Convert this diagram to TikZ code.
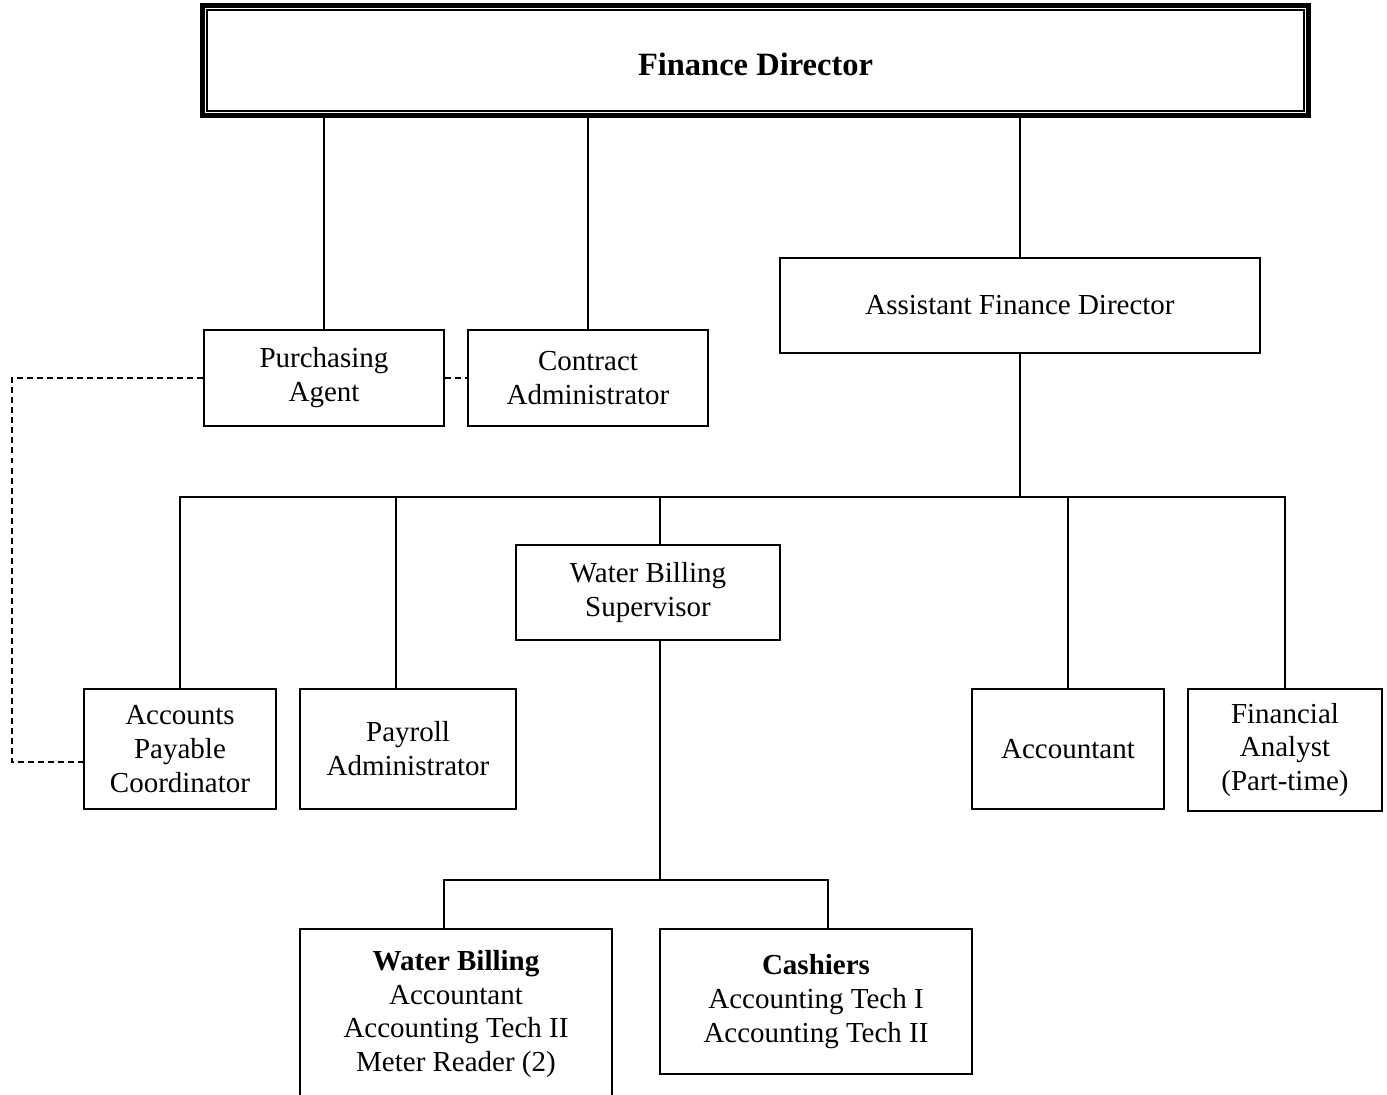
\documentclass[tikz,border=0pt]{standalone}
\usepackage{fontspec}
\setmainfont{Liberation Serif}
\usetikzlibrary{positioning,calc}

\begin{document}
\begin{tikzpicture}[x=0.02cm,y=-0.02cm,
  box/.style={draw,line width=1.3pt,align=center,inner sep=2pt,
              font=\fontsize{16.5}{19.3}\selectfont},
  link/.style={line width=1.3pt},
  dashlink/.style={line width=1.1pt,dash pattern=on 3.4pt off 2.3pt}]
  \useasboundingbox (0,0) rectangle (1387,1095);
  \clip (0,0) rectangle (1387,1095);
  % director
  \node[box,line width=2.8pt,minimum width=22.12cm,minimum height=2.2cm,text height=16.8pt,
        font=\fontsize{18.5}{22}\selectfont\bfseries] (fd) at (755.5,60.5) {Finance Director};
  \draw[line width=0.8pt] ([shift={(0.14cm,0.14cm)}]fd.south west) rectangle ([shift={(-0.14cm,-0.14cm)}]fd.north east);
  % second row
  \node[box,minimum width=4.8cm,minimum height=1.92cm] (purch) at (324,378) {Purchasing\\Agent};
  \node[box,minimum width=4.8cm,minimum height=1.92cm] (contract) at (588,378) {Contract\\Administrator};
  \node[box,minimum width=9.6cm,minimum height=1.9cm] (afd) at (1020,305.5) {Assistant Finance Director};
  % staff
  \node[box,minimum width=5.28cm,minimum height=1.9cm] (wbs) at (648,592.5) {Water Billing\\Supervisor};
  \node[box,minimum width=3.84cm,minimum height=2.4cm] (apc) at (180,749) {Accounts\\Payable\\Coordinator};
  \node[box,minimum width=4.32cm,minimum height=2.4cm] (payroll) at (408,749) {Payroll\\Administrator};
  \node[box,minimum width=3.84cm,minimum height=2.4cm] (acct) at (1068,749) {Accountant};
  \node[box,minimum width=3.88cm,minimum height=2.44cm] (analyst) at (1285,750) {Financial\\Analyst\\(Part-time)};
  % billing teams
  \node[box,minimum width=6.24cm,minimum height=3.4cm] (wbteam) at (456,1014) {\textbf{Water Billing}\\Accountant\\Accounting Tech II\\Meter Reader (2)};
  \node[box,minimum width=6.24cm,minimum height=2.9cm] (cashiers) at (816,1001.5) {\textbf{Cashiers}\\Accounting Tech I\\Accounting Tech II};

  \coordinate (bus) at (1020,497);
  \coordinate (subbus) at (660,880);
  \coordinate (dash) at (12,762);

  \draw[link] (fd.south -| purch.north) -- (purch.north);
  \draw[link] (fd.south -| contract.north) -- (contract.north);
  \draw[link] (fd.south -| afd.north) -- (afd.north);
  \draw[link] (afd.south) -- (bus);
  \draw[link] (apc.north) |- (bus -| analyst.north) -- (analyst.north);
  \draw[link] ($(bus -| payroll.north)+(-12,0)$) -- ($(payroll.north)+(-12,0)$);
  \draw[link] ($(bus -| wbs.north)+(12,0)$) -- ($(wbs.north)+(12,0)$);
  \draw[link] (bus -| acct.north) -- (acct.north);
  \draw[link] ($(wbs.south)+(12,0)$) -- (subbus);
  \draw[link] ($(wbteam.north)+(-12,0)$) |- ($(subbus -| cashiers.north)+(12,0)$) -- ($(cashiers.north)+(12,0)$);
  % dotted reporting lines
  \draw[dashlink] (purch.west) -| (dash) -- ($(apc.west)+(0,13)$);
  \draw[dashlink] (purch.east) -- (contract.west);
\end{tikzpicture}
\end{document}
